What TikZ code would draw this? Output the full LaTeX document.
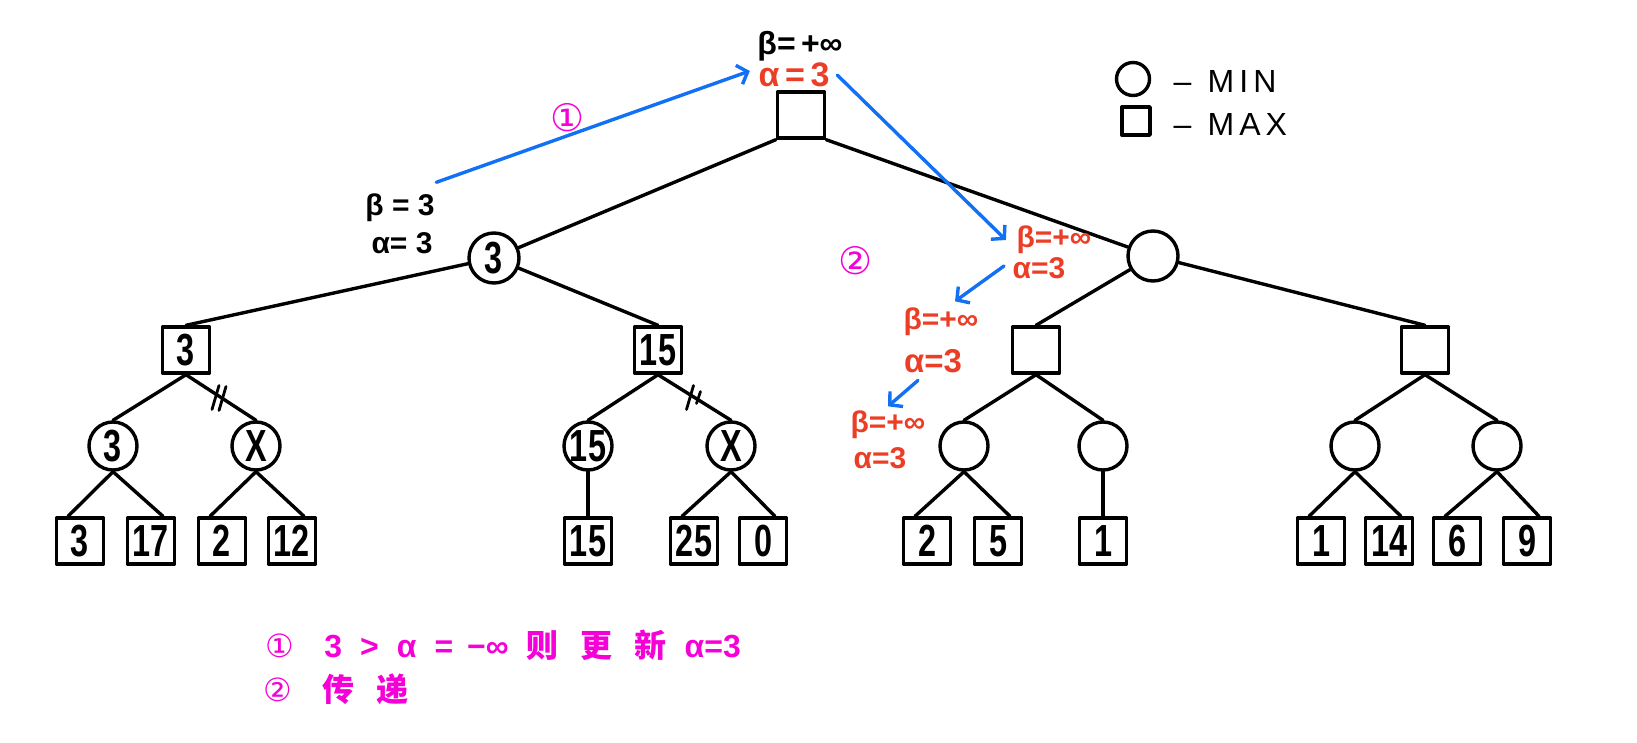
\documentclass[tikz,border=0pt]{standalone}
\usepackage{fontspec}
\setmainfont{Liberation Sans}
\newfontfamily\digitfont[FakeStretch=0.72]{Liberation Sans}
\newfontfamily\symfont{DejaVu Sans}
\newfontfamily\cjkfont{Noto Sans CJK SC}
\usetikzlibrary{arrows.meta,calc}
\definecolor{hwred}{RGB}{236,62,38}
\definecolor{hwblue}{RGB}{18,112,245}
\definecolor{hwmag}{RGB}{245,0,215}
\begin{document}
\begin{tikzpicture}[x=1pt,y=-1pt, line width=3.4pt, line cap=round, line join=round,
  maxnode/.style={draw, rectangle, minimum width=47pt, minimum height=46pt, inner sep=0pt, font=\digitfont\bfseries\fontsize{45}{45}\selectfont},
  minnode/.style={draw, circle, minimum size=48pt, inner sep=0pt, font=\digitfont\bfseries\fontsize{45}{45}\selectfont},
  lbl/.style={inner sep=0pt, font=\bfseries\fontsize{30}{30}\selectfont},
  toplbl/.style={inner sep=0pt, font=\bfseries\fontsize{32}{32}\selectfont},
  legtxt/.style={inner sep=0pt, anchor=west, font=\fontsize{32}{32}\selectfont\addfontfeature{LetterSpace=16}},
  flow/.style={hwblue, line width=3.4pt, -{Straight Barb[length=9pt,width=20pt,line width=3.4pt]}},
  circnum/.style={inner sep=0pt, text=hwmag, font=\symfont\fontsize{38}{38}\selectfont},
  note/.style={inner sep=0pt, anchor=west, text=hwmag, font=\bfseries\fontsize{32}{32}\selectfont},
  cutmark/.style={line width=2.8pt}
]
\useasboundingbox (0,0) rectangle (1637,743);

% tree nodes
\node[maxnode] (root) at (801,115) {};
\node[minnode, minimum size=50pt] (a) at (494,258) {3};
\node[minnode, minimum size=50pt] (b) at (1153,256) {};
\node[maxnode] (a1) at (186,350) {3};
\node[maxnode] (a2) at (658,350) {15};
\node[maxnode] (b1) at (1036,350) {};
\node[maxnode] (b2) at (1425,350) {};
\node[minnode] (a11) at (113,446) {3};
\node[minnode] (a12) at (256,446) {X};
\node[minnode] (a21) at (588,446) {15};
\node[minnode] (a22) at (731,446) {X};
\node[minnode] (b11) at (964,446) {};
\node[minnode] (b12) at (1103,446) {};
\node[minnode] (b21) at (1355,446) {};
\node[minnode] (b22) at (1497,446) {};
\node[maxnode] (l1) at (80,541) {3};
\node[maxnode] (l2) at (151,541) {17};
\node[maxnode] (l3) at (222,541) {2};
\node[maxnode] (l4) at (292,541) {12};
\node[maxnode] (l5) at (588,541) {15};
\node[maxnode] (l6) at (694,541) {25};
\node[maxnode] (l7) at (763,541) {0};
\node[maxnode] (l8) at (927,541) {2};
\node[maxnode] (l9) at (998,541) {5};
\node[maxnode] (l10) at (1103,541) {1};
\node[maxnode] (l11) at (1321,541) {1};
\node[maxnode] (l12) at (1389,541) {14};
\node[maxnode] (l13) at (1457,541) {6};
\node[maxnode] (l14) at (1527,541) {9};

% edges
\draw (root.south west) -- (a);
\draw (root.south east) -- (b);
\draw (a) -- (a1.north);
\draw (a) -- (a2.north);
\draw (b) -- (b1.north);
\draw (b) -- (b2.north);
\draw (a1.south) -- (a11.north);
\draw (a1.south) -- (a12.north);
\draw (a2.south) -- (a21.north);
\draw (a2.south) -- (a22.north);
\draw (b1.south) -- (b11.north);
\draw (b1.south) -- (b12.north);
\draw (b2.south) -- (b21.north);
\draw (b2.south) -- (b22.north);
\draw (a11.south) -- ($(l1.north)+(-12,0)$);
\draw (a11.south) -- ($(l2.north)+(12,0)$);
\draw (a12.south) -- ($(l3.north)+(-12,0)$);
\draw (a12.south) -- ($(l4.north)+(12,0)$);
\draw (a21) -- (l5);
\draw (a22.south) -- ($(l6.north)+(-12,0)$);
\draw (a22.south) -- ($(l7.north)+(12,0)$);
\draw (b11.south) -- ($(l8.north)+(-12,0)$);
\draw (b11.south) -- ($(l9.north)+(12,0)$);
\draw (b12) -- (l10);
\draw (b21.south) -- ($(l11.north)+(-12,0)$);
\draw (b21.south) -- ($(l12.north)+(12,0)$);
\draw (b22.south) -- ($(l13.north)+(-12,0)$);
\draw (b22.south) -- ($(l14.north)+(12,0)$);

% cut marks
\path (a1.south) -- (a12.north) coordinate[pos=0.5] (cut1);
\draw[cutmark] ($(cut1)+(-2,-12)$) -- ($(cut1)+(-9,12)$);
\draw[cutmark] ($(cut1)+(5,-11)$) -- ($(cut1)+(-2,13)$);
\path (a2.south) -- (a22.north) coordinate[pos=0.5] (cut2);
\draw[cutmark] ($(cut2)+(-1,-12)$) -- ($(cut2)+(-8,12)$);
\draw[cutmark] ($(cut2)+(6,-6)$) -- ($(cut2)+(2,6)$);

% legend
\node[draw, circle, minimum size=33pt, inner sep=0pt] (legmin) at (1133,79) {};
\node[draw, rectangle, minimum size=28pt, inner sep=0pt] (legmax) at (1136,121) {};
\node[legtxt] (legmintxt) at (1172,81) {–\hspace{16pt}MIN};
\node[legtxt] (legmaxtxt) at (1172,124) {–\hspace{16pt}MAX};

% alpha beta labels
\node[toplbl] (rootbeta) at (800,46) {β=\,+∞};
\node[toplbl, text=hwred, font=\bfseries\fontsize{34}{34}\selectfont] (rootalpha) at (794,75) {α\,=\,3};
\node[lbl] (abeta) at (400,208) {β = 3};
\node[lbl] (aalpha) at (402,243) {α= 3};
\node[lbl, text=hwred] (bbeta) at (1054,240) {β=+∞};
\node[lbl, text=hwred] (balpha) at (1039,268) {α=3};
\node[lbl, text=hwred] (b1beta) at (941,322) {β=+∞};
\node[lbl, text=hwred, font=\bfseries\fontsize{33}{33}\selectfont] (b1alpha) at (933,361) {α=3};
\node[lbl, text=hwred] (b11beta) at (888,425) {β=+∞};
\node[lbl, text=hwred] (b11alpha) at (880,458) {α=3};

% blue flow arrows
\draw[flow] ($(abeta.north east)+(0,-10)$) -- ($(rootalpha.west)+(-7,-4)$);
\draw[flow] ($(rootalpha.east)+(6,0)$) -- ($(bbeta.west)+(-9,0)$);
\draw[flow] ($(balpha.west)+(-7,-2)$) -- ($(b1beta.north)+(14,-5)$);
\draw[flow] ($(b1alpha.south)+(-15,6)$) -- ($(b11beta.north)+(0,-3)$);

% step numbers
\node[circnum] (n1) at (568,118) {①};
\node[circnum] (n2) at (856,261) {②};

% notes
\node[note] (note1) at (264,645) {{\symfont\mdseries ①}\hspace{30pt}3\hspace{18pt}>\hspace{18pt}α\hspace{18pt}=\hspace{14pt}−∞\hspace{18pt}{\cjkfont 则\hspace{22pt}更\hspace{22pt}新}\hspace{18pt}α=3};
\node[note] (note2) at (262,689) {{\symfont\mdseries ②}\hspace{30pt}{\cjkfont 传\hspace{22pt}递}};
\end{tikzpicture}
\end{document}
